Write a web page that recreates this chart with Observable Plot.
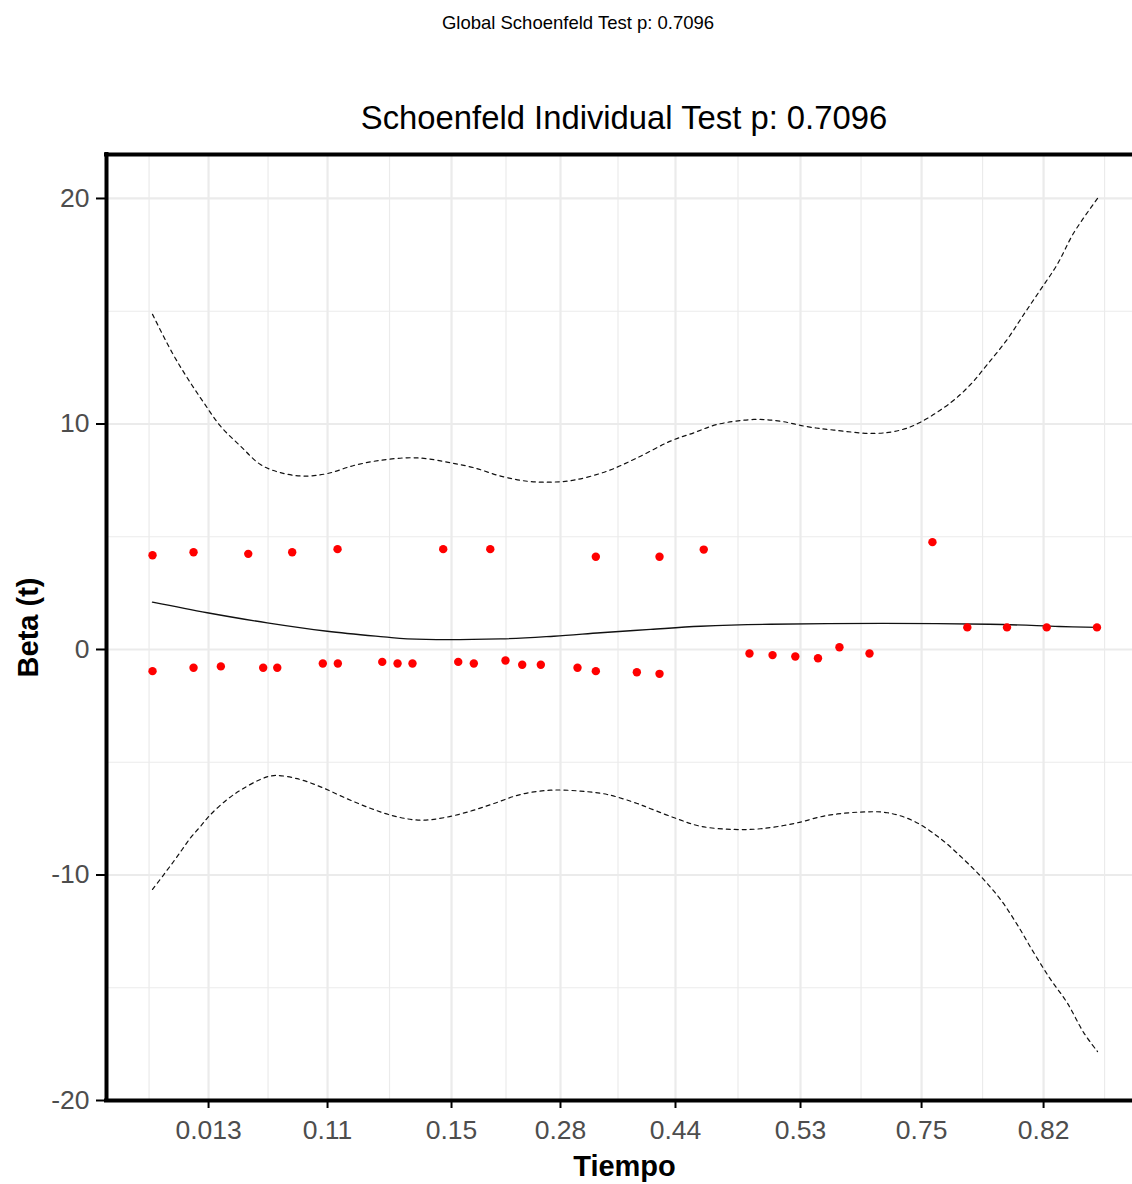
<!DOCTYPE html>
<html><head><meta charset="utf-8">
<script src="https://cdn.jsdelivr.net/npm/d3@7"></script>
<script src="https://cdn.jsdelivr.net/npm/@observablehq/plot@0.6"></script>
<style>
html,body{margin:0;padding:0;background:#fff;}
#fig{position:relative;width:1132px;height:1184px;overflow:hidden;font-family:"Liberation Sans",Arial,sans-serif;}
#head{position:relative;height:140px;}
.cap{position:absolute;white-space:nowrap;line-height:1;transform:translateX(-50%);color:#000;}
#chart svg{display:block;}
</style></head><body>
<div id="fig">
  <div id="head">
    <div class="cap" style="left:578px;top:14px;font-size:18.5px;">Global Schoenfeld Test p: 0.7096</div>
    <div class="cap" style="left:624px;top:102px;font-size:32.8px;">Schoenfeld Individual Test p: 0.7096</div>
  </div>
  <div id="chart"></div>
</div>
<script>
// ---- data (transformed time scale, beta(t)) ----
const pointTime = [0.000, 0.000, 0.0434, 0.0434, 0.0723, 0.1013, 0.1171, 0.1320, 0.1478, 0.1802,
  0.1958, 0.1961, 0.2431, 0.2593, 0.2751, 0.3076, 0.3235, 0.3400, 0.3574, 0.3735,
  0.3912, 0.4109, 0.4497, 0.4691, 0.4691, 0.5125, 0.5365, 0.5365, 0.5833, 0.6317,
  0.6561, 0.6802, 0.7042, 0.7269, 0.7587, 0.8253, 0.8622, 0.9042, 0.9462, 0.9994];
const pointBeta = [4.18, -0.96, 4.31, -0.81, -0.75, 4.24, -0.81, -0.81, 4.31, -0.62,
  4.45, -0.62, -0.55, -0.62, -0.62, 4.45, -0.55, -0.62, 4.45, -0.49,
  -0.68, -0.68, -0.81, 4.11, -0.96, -1.01, 4.11, -1.08, 4.43, -0.18,
  -0.25, -0.31, -0.39, 0.10, -0.18, 4.76, 0.98, 0.98, 0.98, 0.98];

const fitTime = [0, 0.0579, 0.1214, 0.1849, 0.2448, 0.2695, 0.3683, 0.4247, 0.4741, 0.5270, 0.5799, 0.6540, 0.8854, 0.9594, 1.0];
const fitBeta = [2.10, 1.63, 1.18, 0.81, 0.56, 0.47, 0.47, 0.59, 0.74, 0.89, 1.03, 1.12, 1.12, 1.02, 0.98];

const upperTime = [0, 0.0208, 0.0367, 0.0543, 0.0720, 0.0931, 0.1143, 0.1354, 0.1601, 0.1849,
  0.2130, 0.2413, 0.2695, 0.2907, 0.3153, 0.3400, 0.3683, 0.3965, 0.4212, 0.4458,
  0.4812, 0.5129, 0.5481, 0.5728, 0.5976, 0.6363, 0.6646, 0.6928, 0.7210, 0.7633,
  0.7915, 0.8127, 0.8444, 0.8656, 0.8833, 0.9044, 0.9220, 0.9397, 0.9573, 0.9749, 1.0];
const upperBeta = [14.86, 13.16, 12.05, 10.94, 9.90, 9.02, 8.20, 7.84, 7.69, 7.80,
  8.16, 8.39, 8.50, 8.46, 8.28, 8.06, 7.69, 7.46, 7.42, 7.51,
  7.91, 8.50, 9.24, 9.61, 9.98, 10.20, 10.12, 9.88, 9.73, 9.58,
  9.73, 10.08, 10.94, 11.75, 12.64, 13.75, 14.86, 15.96, 17.07, 18.48, 20.0];

const lowerTime = [0, 0.0120, 0.0225, 0.0314, 0.0402, 0.0508, 0.0614, 0.0790, 0.0931, 0.1143,
  0.1284, 0.1531, 0.1778, 0.2060, 0.2342, 0.2589, 0.2836, 0.3083, 0.3365, 0.3612,
  0.3894, 0.4212, 0.4529, 0.4812, 0.5129, 0.5270, 0.5552, 0.5799, 0.6151, 0.6434,
  0.6786, 0.7140, 0.7492, 0.7775, 0.8056, 0.8339, 0.8585, 0.8780, 0.8974, 0.9150,
  0.9326, 0.9503, 0.9679, 0.9855, 1.0];
const lowerBeta = [-10.64, -9.98, -9.39, -8.87, -8.35, -7.84, -7.32, -6.65, -6.24, -5.76,
  -5.59, -5.73, -6.09, -6.62, -7.10, -7.42, -7.57, -7.46, -7.17, -6.83,
  -6.43, -6.24, -6.28, -6.43, -6.83, -7.06, -7.51, -7.84, -7.98, -7.95,
  -7.72, -7.36, -7.21, -7.24, -7.61, -8.39, -9.31, -10.13, -11.09, -12.20,
  -13.45, -14.63, -15.67, -17.00, -17.83];

const xTickPos = [0.0593, 0.1852, 0.3164, 0.4317, 0.5534, 0.6857, 0.8138, 0.9429];
const xTickLabels = ["0.013", "0.11", "0.15", "0.28", "0.44", "0.53", "0.75", "0.82"];
const yTicks = [-20, -10, 0, 10, 20];
const yTickLabels = ["-20", "-10", "0", "10", "20"];
const yMinor = [-15, -5, 5, 15];

// ---- build tables ----
const points = pointTime.map((t, i) => ({t, beta: pointBeta[i]}));
const fit = fitTime.map((t, i) => ({t, beta: fitBeta[i]}));
const upper = upperTime.map((t, i) => ({t, beta: upperBeta[i]}));
const lower = lowerTime.map((t, i) => ({t, beta: lowerBeta[i]}));
const xLabelOf = new Map(xTickPos.map((p, i) => [p, xTickLabels[i]]));
const yLabelOf = new Map(yTicks.map((p, i) => [p, yTickLabels[i]]));
const xMinor = xTickPos.slice(1).map((v, i) => (v + xTickPos[i]) / 2);
xMinor.unshift(xTickPos[0] - (xTickPos[1] - xTickPos[0]) / 2);
xMinor.push(xTickPos[xTickPos.length - 1] + (xTickPos[xTickPos.length - 1] - xTickPos[xTickPos.length - 2]) / 2);

const xDomain = [-0.0487, 1.037];
const yDomain = [-20, 21.95];
const grid = "#EBEBEB";
const font = "Liberation Sans, Arial, sans-serif";

const chart = Plot.plot({
  width: 1132,
  height: 1044,
  marginTop: 14,
  marginBottom: 84,
  marginLeft: 106,
  marginRight: 0,
  style: {fontFamily: font, background: "white", overflow: "visible"},
  x: {domain: xDomain},
  y: {domain: yDomain},
  marks: [
    Plot.gridX(xMinor, {stroke: grid, strokeOpacity: 1, strokeWidth: 1.2}),
    Plot.gridY(yMinor, {stroke: grid, strokeOpacity: 1, strokeWidth: 1.2}),
    Plot.gridX(xTickPos, {stroke: grid, strokeOpacity: 1, strokeWidth: 2.2}),
    Plot.gridY(yTicks, {stroke: grid, strokeOpacity: 1, strokeWidth: 2.2}),
    Plot.line(upper, {x: "t", y: "beta", curve: "catmull-rom", stroke: "#111", strokeWidth: 1.2, strokeDasharray: "4,4"}),
    Plot.line(lower, {x: "t", y: "beta", curve: "catmull-rom", stroke: "#111", strokeWidth: 1.2, strokeDasharray: "4,4"}),
    Plot.line(fit, {x: "t", y: "beta", curve: "catmull-rom", stroke: "#111", strokeWidth: 1.4}),
    Plot.dot(points, {x: "t", y: "beta", r: 4.2, fill: "#FF0000", stroke: "none"}),
    Plot.ruleX([xDomain[0]], {stroke: "black", strokeWidth: 4, strokeLinecap: "square"}),
    Plot.ruleY(yDomain, {stroke: "black", strokeWidth: 4, strokeLinecap: "square"}),
    Plot.axisY(yTicks, {tickSize: 10, tickPadding: 7, tickFormat: d => yLabelOf.get(d), fontSize: 26.5, fill: "#4D4D4D", stroke: "black", strokeWidth: 2, label: null}),
    Plot.axisX(xTickPos, {tickSize: 8, tickPadding: 12, tickFormat: d => xLabelOf.get(d), fontSize: 26.5, fill: "#4D4D4D", stroke: "black", strokeWidth: 2, label: null}),
    Plot.text(["Beta (t)"], {frameAnchor: "left", dx: -78, rotate: -90, textAnchor: "middle", lineAnchor: "middle", text: d => d, fontSize: 29, fontWeight: "bold", fill: "black"}),
    Plot.text(["Tiempo"], {frameAnchor: "bottom", dx: 5, dy: 66, textAnchor: "middle", lineAnchor: "middle", text: d => d, fontSize: 29, fontWeight: "bold", fill: "black"})
  ]
});
document.getElementById("chart").appendChild(chart);
</script>
</body></html>
